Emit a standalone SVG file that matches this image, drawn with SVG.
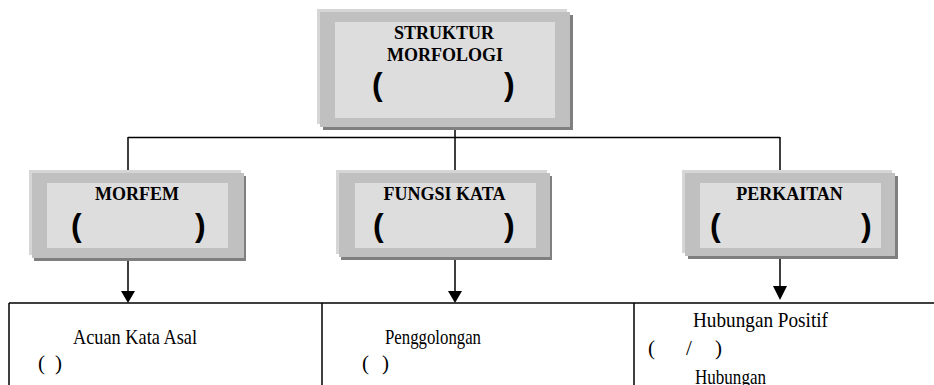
<svg xmlns="http://www.w3.org/2000/svg" width="934" height="385" viewBox="0 0 934 385">
<style>
.hl{fill:#d6d6d6}
.sh{fill:#7f7f7f}
.fr{fill:#c0c0c0}
.in{fill:#dddddd}
.t{font-family:"Liberation Serif",serif;font-weight:bold;font-size:18px;fill:#000}
.p{font-family:"Liberation Sans",Arial,sans-serif;font-weight:bold;font-size:32px;fill:#000}
.c{font-family:"Liberation Serif",serif;font-size:21px;fill:#000}
.ln{stroke:#000;stroke-width:1.5;fill:none}
</style>
<rect width="934" height="385" fill="#fff"/>
<g id="connectors">
  <path class="ln" d="M128,137.5 H780 M128,137 V172 M455,129 V172 M780,137 V172"/>
  <path class="ln" d="M128,248 V292 M455,258 V292 M780,243 V287"/>
  <polygon points="121,291 135,291 128,303" fill="#000"/>
  <polygon points="448,291 462,291 455,303" fill="#000"/>
  <polygon points="773,286 787,286 780,300" fill="#000"/>
</g>
<g id="node-struktur">
  <rect class="sh" x="323" y="15" width="250" height="115"/>
  <rect class="hl" x="317" y="9" width="250" height="115"/>
  <rect class="fr" x="320" y="12" width="250" height="115"/>
  <rect class="in" x="335" y="22" width="220" height="96"/>
  <text class="t" x="444" y="39" text-anchor="middle">STRUKTUR</text>
  <text class="t" x="445" y="61" text-anchor="middle">MORFOLOGI</text>
  <text class="p" x="372" y="95">(</text>
  <text class="p" x="504" y="95">)</text>
</g>
<g id="node-morfem">
  <rect class="sh" x="34" y="176" width="212" height="85"/>
  <rect class="hl" x="29" y="170" width="212" height="85"/>
  <rect class="fr" x="32" y="173" width="212" height="85"/>
  <rect class="in" x="47" y="183" width="181" height="65"/>
  <text class="t" x="137" y="200" text-anchor="middle">MORFEM</text>
  <text class="p" x="71" y="236">(</text>
  <text class="p" x="195" y="236">)</text>
</g>
<g id="node-fungsi">
  <rect class="sh" x="341" y="176" width="211" height="84"/>
  <rect class="hl" x="336" y="170" width="211" height="84"/>
  <rect class="fr" x="339" y="173" width="211" height="84"/>
  <rect class="in" x="355" y="183" width="181" height="65"/>
  <text class="t" x="444.5" y="200" text-anchor="middle">FUNGSI KATA</text>
  <text class="p" x="373" y="236">(</text>
  <text class="p" x="504" y="236">)</text>
</g>
<g id="node-perkaitan">
  <rect class="sh" x="688" y="176" width="210" height="83"/>
  <rect class="hl" x="682" y="170" width="210" height="83"/>
  <rect class="fr" x="685" y="173" width="210" height="83"/>
  <rect class="in" x="700" y="183" width="181" height="65"/>
  <text class="t" x="789.5" y="200" text-anchor="middle">PERKAITAN</text>
  <text class="p" x="710" y="236">(</text>
  <text class="p" x="861" y="236">)</text>
</g>
<g id="table">
  <path class="ln" d="M9,303 H934 M9,303 V385 M322,303 V385 M634,303 V385" stroke-width="2"/>
  <text class="c" x="73" y="344" textLength="124" lengthAdjust="spacingAndGlyphs">Acuan Kata Asal</text>
  <text class="c" x="38" y="370">(</text>
  <text class="c" x="55" y="370">)</text>
  <text class="c" x="385" y="344" textLength="96" lengthAdjust="spacingAndGlyphs">Penggolongan</text>
  <text class="c" x="362" y="370">(</text>
  <text class="c" x="382" y="370">)</text>
  <text class="c" x="693" y="327" textLength="135" lengthAdjust="spacingAndGlyphs">Hubungan Positif</text>
  <text class="c" x="648" y="355">(</text>
  <text class="c" x="686" y="355">/</text>
  <text class="c" x="715" y="355">)</text>
  <text class="c" x="695" y="384" textLength="71" lengthAdjust="spacingAndGlyphs">Hubungan</text>
</g>
</svg>
